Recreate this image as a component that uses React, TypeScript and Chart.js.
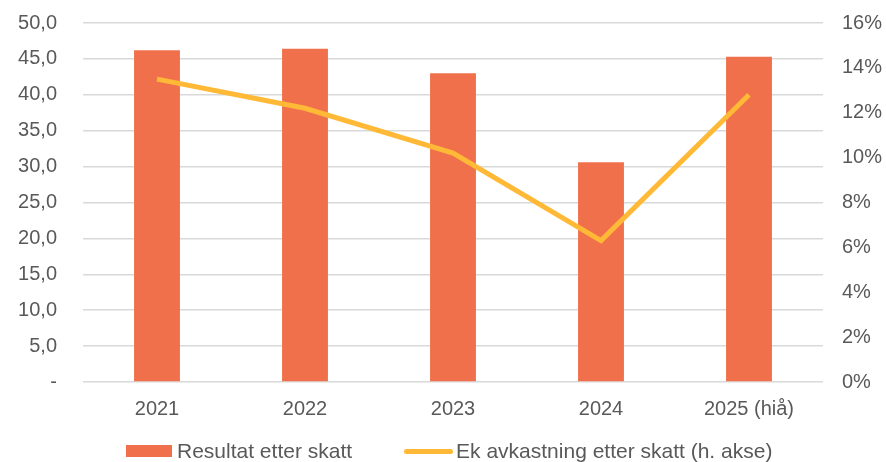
import React, { useEffect, useRef } from "react";
import { Chart, registerables } from "chart.js";

Chart.register(...registerables);

const categories = ["2021", "2022", "2023", "2024", "2025 (hiå)"];
const resultat = [46.2, 46.4, 43.0, 30.6, 45.3];
const ekAvkastning = [13.5, 12.2, 10.2, 6.3, 12.8];
const seriesLabels = ["Resultat etter skatt", "Ek avkastning etter skatt (h. akse)"];
const leftTicks = [0, 5, 10, 15, 20, 25, 30, 35, 40, 45, 50];
const rightTicks = [0, 2, 4, 6, 8, 10, 12, 14, 16];

const TEXT = "#595959";
const FONT = "Liberation Sans, Arial, sans-serif";
const BAR = "#F0704B";
const LINE = "#FFB936";

export default function App() {
  const ref = useRef<HTMLCanvasElement>(null);
  useEffect(() => {
    document.body.style.margin = "0";
    const ctx = ref.current!;
    const noVPad = (axis: any, w: number) => {
      axis.width = w;
      axis.paddingTop = 0;
      axis.paddingBottom = 0;
    };
    const chart = new Chart(ctx, {
      type: "bar",
      data: {
        labels: categories,
        datasets: [
          {
            type: "bar",
            label: seriesLabels[0],
            data: resultat,
            backgroundColor: BAR,
            borderWidth: 0,
            barPercentage: 0.31,
            categoryPercentage: 1,
            yAxisID: "y",
            order: 2,
          },
          {
            type: "line",
            label: seriesLabels[1],
            data: ekAvkastning,
            borderColor: LINE,
            backgroundColor: LINE,
            borderWidth: 5,
            pointRadius: 0,
            tension: 0,
            yAxisID: "y1",
            order: 1,
          },
        ],
      },
      options: {
        animation: false,
        responsive: false,
        layout: { padding: { top: 23, left: 18, right: 4, bottom: 34 } },
        plugins: {
          tooltip: { enabled: false },
          legend: { display: false },
        },
        scales: {
          x: {
            grid: { display: false },
            border: { display: false },
            ticks: { color: TEXT, font: { family: FONT, size: 20 }, padding: 7 },
          },
          y: {
            position: "left",
            min: 0,
            max: 50,
            afterBuildTicks: (axis: any) => {
              axis.ticks = leftTicks.map((v) => ({ value: v }));
            },
            afterFit: (axis: any) => noVPad(axis, 65),
            grid: { color: "#D9D9D9", lineWidth: 1.5, drawTicks: false },
            border: { display: false },
            ticks: {
              color: TEXT,
              font: { family: FONT, size: 20 },
              padding: 26,
              callback: (v: any) => (Number(v) === 0 ? "-" : Number(v).toFixed(1).replace(".", ",")),
            },
          },
          y1: {
            position: "right",
            min: 0,
            max: 16,
            afterBuildTicks: (axis: any) => {
              axis.ticks = rightTicks.map((v) => ({ value: v }));
            },
            afterFit: (axis: any) => noVPad(axis, 59),
            grid: { display: false, drawTicks: false },
            border: { display: false },
            ticks: {
              color: TEXT,
              font: { family: FONT, size: 20 },
              padding: 19,
              callback: (v: any) => `${v}%`,
            },
          },
        },
      },
    });
    return () => chart.destroy();
  }, []);

  const textStyle: React.CSSProperties = {
    fontFamily: FONT,
    fontSize: 21,
    lineHeight: "24px",
    color: TEXT,
    whiteSpace: "nowrap",
  };

  return (
    <div style={{ position: "relative", width: 886, height: 462 }}>
      <canvas ref={ref} width={886} height={462} style={{ display: "block" }} />
      <div
        style={{
          position: "absolute",
          left: 126,
          top: 439,
          display: "flex",
          alignItems: "center",
          height: 24,
        }}
      >
        <span style={{ display: "inline-block", width: 46, height: 12, background: BAR, marginRight: 5 }} />
        <span style={textStyle}>{seriesLabels[0]}</span>
        <span
          style={{
            display: "inline-block",
            width: 49,
            height: 5,
            borderRadius: 3,
            background: LINE,
            marginLeft: 52,
            marginRight: 3,
          }}
        />
        <span style={textStyle}>{seriesLabels[1]}</span>
      </div>
    </div>
  );
}
